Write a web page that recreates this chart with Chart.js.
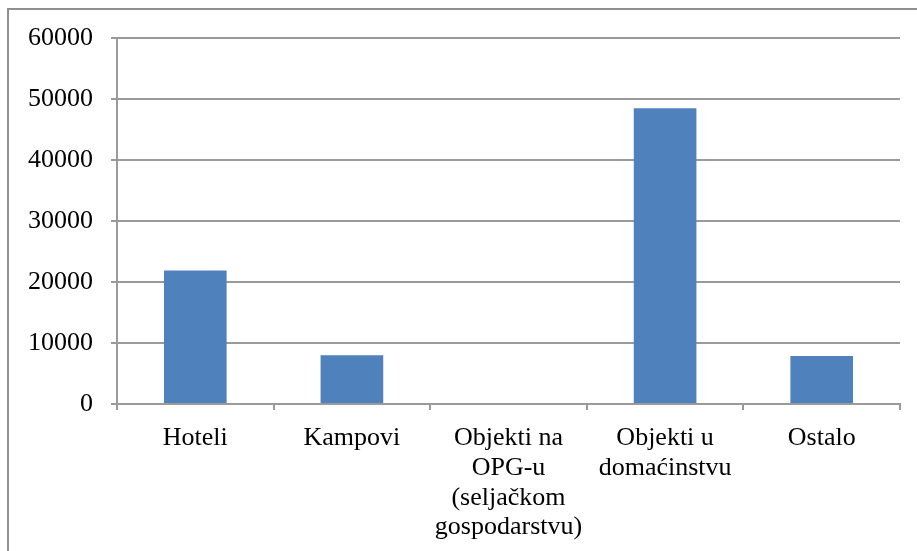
<!DOCTYPE html>
<html>
<head>
<meta charset="utf-8">
<script src="https://cdn.jsdelivr.net/npm/chart.js@4"></script>
<style>
  html, body { margin: 0; padding: 0; background: #fff; overflow: hidden; }
  #wrap { position: relative; width: 917px; height: 551px; }
  #frame { position: absolute; left: 7px; top: 8px; width: 1000px; height: 1000px; border: 2px solid #8f8f8f; box-sizing: border-box; }
  canvas { position: absolute; left: 0; top: 0; }
</style>
</head>
<body>
<div id="wrap">
  <div id="frame"></div>
  <canvas id="c" width="917" height="551"></canvas>
</div>
<script>
const categories = ['Hoteli', 'Kampovi', ['Objekti na', 'OPG-u', '(seljačkom', 'gospodarstvu)'], ['Objekti u', 'domaćinstvu'], 'Ostalo'];
const values = [21900, 8000, 0, 48500, 7850];
const yMin = 0;
const yMax = 60000;
const yStep = 10000;

const gridColor = '#9a9a9a';
const fontSpec = { family: '"Liberation Serif", "Times New Roman", serif', size: 26, lineHeight: 1.15 };

new Chart(document.getElementById('c'), {
  type: 'bar',
  data: {
    labels: categories,
    datasets: [{
      data: values,
      backgroundColor: '#4F81BD',
      borderWidth: 0,
      barPercentage: 0.4,
      categoryPercentage: 1.0
    }]
  },
  options: {
    responsive: false,
    animation: false,
    layout: { padding: { top: 38, right: 17, left: 0, bottom: 0 } },
    plugins: { legend: { display: false }, tooltip: { enabled: false } },
    scales: {
      x: {
        offset: true,
        grid: { drawOnChartArea: false, drawTicks: true, tickLength: 6, offset: true, color: gridColor, lineWidth: 2 },
        border: { color: gridColor, width: 2 },
        ticks: { color: '#000', font: fontSpec, padding: 13, maxRotation: 0, autoSkip: false },
        afterFit: (s) => { s.height = 147; }
      },
      y: {
        min: yMin, max: yMax,
        grid: { color: gridColor, lineWidth: 2, tickLength: 6 },
        border: { color: gridColor, width: 2 },
        ticks: { stepSize: yStep, color: '#000', font: fontSpec, padding: 18, callback: (v) => String(v) },
        afterFit: (s) => { s.width = 117; }
      }
    }
  }
});
</script>
</body>
</html>
